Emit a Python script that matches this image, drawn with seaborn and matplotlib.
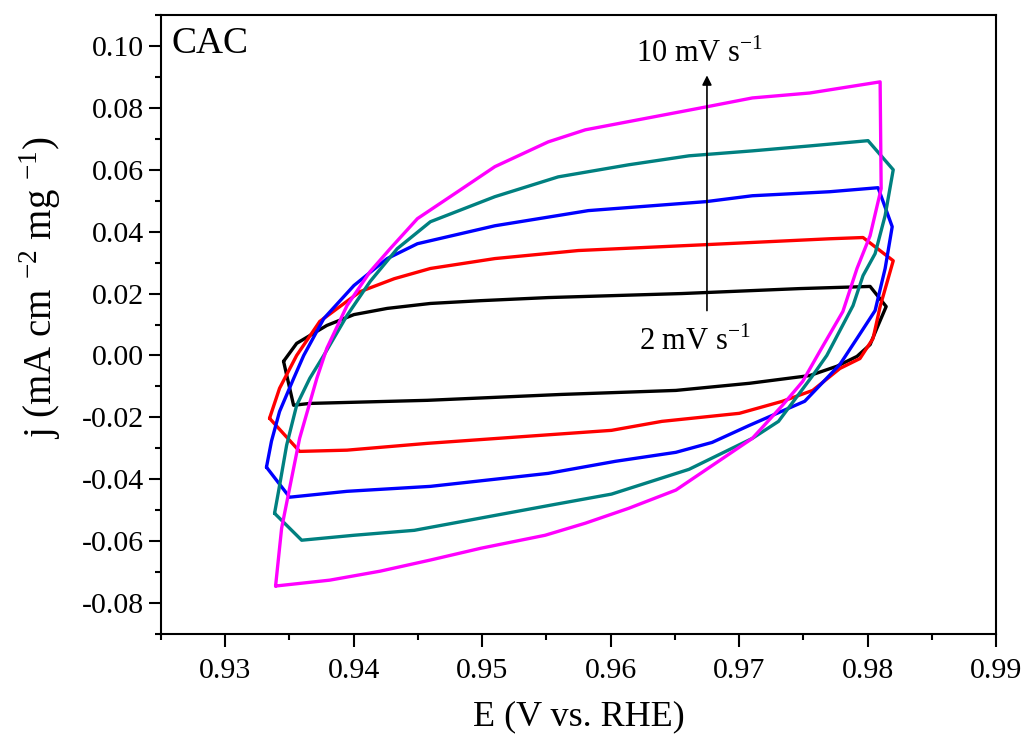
import numpy as np
import pandas as pd
import matplotlib
matplotlib.use("Agg")
import matplotlib.pyplot as plt
import seaborn as sns
from matplotlib.ticker import MultipleLocator, FormatStrFormatter

# ---- data ----
scan_labels = ["2 mV/s", "4 mV/s", "6 mV/s", "8 mV/s", "10 mV/s"]
scan_colors = ["#000000", "#FF0000", "#0000FF", "#008080", "#FF00FF"]

E_2 = [0.93454, 0.93556, 0.93791, 0.94002, 0.94261, 0.94597, 0.94989, 0.95514, 0.96555, 0.97471,
       0.98020, 0.98145, 0.98082, 0.98020, 0.97918, 0.97761, 0.97550, 0.97080, 0.96508, 0.95615,
       0.94574, 0.93658, 0.93532, 0.93454]
j_2 = [-0.0019, 0.0039, 0.0097, 0.0132, 0.0152, 0.0168, 0.0177, 0.0187, 0.0200, 0.0216,
       0.0223, 0.0158, 0.0097, 0.0035, -0.0003, -0.0035, -0.0065, -0.0090, -0.0113, -0.0126,
       -0.0145, -0.0155, -0.0161, -0.0019]

E_4 = [0.93345, 0.93423, 0.93556, 0.93736, 0.94049, 0.94316, 0.94597, 0.95099, 0.95749, 0.96743,
       0.97706, 0.97965, 0.98200, 0.98098, 0.98043, 0.97941, 0.97785, 0.97573, 0.97338, 0.97002,
       0.96399, 0.96007, 0.95357, 0.94574, 0.93948, 0.93579, 0.93345]
j_4 = [-0.0203, -0.0106, 0.0000, 0.0110, 0.0206, 0.0248, 0.0281, 0.0313, 0.0339, 0.0358,
       0.0377, 0.0381, 0.0306, 0.0158, 0.0055, -0.0010, -0.0042, -0.0113, -0.0148, -0.0187,
       -0.0213, -0.0242, -0.0261, -0.0284, -0.0306, -0.0310, -0.0203]

E_6 = [0.93321, 0.93360, 0.93423, 0.93533, 0.93611, 0.93767, 0.94002, 0.94261, 0.94496, 0.95099,
       0.95827, 0.96743, 0.97103, 0.97706, 0.98082, 0.98192, 0.98137, 0.98059, 0.97918, 0.97785,
       0.97511, 0.97080, 0.96790, 0.96508, 0.96038, 0.95514, 0.94597, 0.93948, 0.93501, 0.93321]
j_6 = [-0.0361, -0.0277, -0.0181, -0.0074, 0.0000, 0.0119, 0.0226, 0.0313, 0.0361, 0.0419,
       0.0468, 0.0497, 0.0516, 0.0529, 0.0542, 0.0416, 0.0281, 0.0145, 0.0055, -0.0029,
       -0.0148, -0.0226, -0.0281, -0.0313, -0.0342, -0.0381, -0.0423, -0.0439, -0.0458, -0.0361]

E_8 = [0.93384, 0.93415, 0.93478, 0.93556, 0.93658, 0.93767, 0.93948, 0.94128, 0.94339, 0.94597,
       0.95099, 0.95592, 0.96140, 0.96610, 0.97103, 0.97550, 0.98004, 0.98200, 0.98137, 0.98059,
       0.97965, 0.97887, 0.97683, 0.97573, 0.97307, 0.97103, 0.96610, 0.96007, 0.95569, 0.95020,
       0.94472, 0.94002, 0.93595, 0.93384]
j_8 = [-0.0510, -0.0439, -0.0290, -0.0161, -0.0074, 0.0000, 0.0129, 0.0239, 0.0345, 0.0432,
       0.0513, 0.0577, 0.0616, 0.0645, 0.0661, 0.0677, 0.0694, 0.0600, 0.0452, 0.0329,
       0.0258, 0.0161, 0.0000, -0.0065, -0.0213, -0.0268, -0.0368, -0.0448, -0.0481, -0.0523,
       -0.0565, -0.0581, -0.0597, -0.0510]

E_10 = [0.93392, 0.93439, 0.93501, 0.93579, 0.93713, 0.93791, 0.93948, 0.94128, 0.94284, 0.94496,
        0.94809, 0.95099, 0.95514, 0.95803, 0.96743, 0.97103, 0.97550, 0.98098, 0.98106, 0.98020,
        0.97918, 0.97808, 0.97628, 0.97495, 0.97338, 0.97103, 0.96508, 0.96140, 0.95803, 0.95490,
        0.94989, 0.94597, 0.94206, 0.93814, 0.93392]
j_10 = [-0.0745, -0.0558, -0.0429, -0.0268, -0.0074, 0.0023, 0.0161, 0.0271, 0.0345, 0.0442,
        0.0529, 0.0610, 0.0690, 0.0729, 0.0803, 0.0832, 0.0848, 0.0884, 0.0539, 0.0387,
        0.0281, 0.0142, 0.0013, -0.0084, -0.0161, -0.0268, -0.0435, -0.0494, -0.0542, -0.0581,
        -0.0623, -0.0661, -0.0697, -0.0726, -0.0745]

x_ticks = [0.93, 0.94, 0.95, 0.96, 0.97, 0.98, 0.99]
y_ticks = [-0.08, -0.06, -0.04, -0.02, 0.00, 0.02, 0.04, 0.06, 0.08, 0.10]

# ---- build table ----
all_E = [E_2, E_4, E_6, E_8, E_10]
all_j = [j_2, j_4, j_6, j_8, j_10]
frames = []
for lab, e, j in zip(scan_labels, all_E, all_j):
    frames.append(pd.DataFrame({"E": e, "j": j, "scan": lab}))
df = pd.concat(frames, ignore_index=True)

sns.set_style("ticks")
plt.rcParams["font.family"] = ["Liberation Serif", "DejaVu Serif"]
plt.rcParams["mathtext.fontset"] = "custom"
plt.rcParams["mathtext.rm"] = "Liberation Serif"
plt.rcParams["axes.unicode_minus"] = False
for k in ["text.color", "axes.labelcolor", "xtick.color", "ytick.color", "axes.edgecolor"]:
    plt.rcParams[k] = "black"

fig = plt.figure(figsize=(10.32, 7.42), dpi=100)
ax = fig.add_axes([161 / 1032, 1 - 634 / 742, (996 - 161) / 1032, (634 - 15) / 742])

sns.lineplot(data=df, x="E", y="j", hue="scan", hue_order=scan_labels,
             palette=dict(zip(scan_labels, scan_colors)), sort=False, estimator=None,
             units="scan", linewidth=2.4, legend=False, ax=ax)

ax.set_xlim(0.925, 0.99)
ax.set_ylim(-0.09, 0.11)
ax.set_xticks(x_ticks)
ax.set_yticks(y_ticks)
ax.xaxis.set_minor_locator(MultipleLocator(0.005))
ax.yaxis.set_minor_locator(MultipleLocator(0.01))
ax.xaxis.set_major_formatter(FormatStrFormatter("%.2f"))
ax.yaxis.set_major_formatter(FormatStrFormatter("%.2f"))
ax.tick_params(axis="both", which="major", direction="out", length=9, width=1.5,
               labelsize=21.5, colors="black")
ax.tick_params(axis="x", which="major", pad=8)
ax.tick_params(axis="y", which="major", pad=3)
ax.tick_params(axis="both", which="minor", direction="out", length=4.5, width=1.5)
ax.tick_params(top=False, right=False)
for s in ax.spines.values():
    s.set_linewidth(1.5)
    s.set_color("black")

ax.set_xlabel("E (V vs. RHE)", fontsize=26, labelpad=12)
ax.set_ylabel(r"j (mA cm $^{\mathregular{-2}}$ mg $^{\mathregular{-1}}$)", fontsize=28)
ax.yaxis.set_label_coords(-0.117, 0.56)

ax.text(0.9258, 0.1008, "CAC", fontsize=27, ha="left", va="center")
ax.annotate("", xy=(0.9675, 0.0905), xytext=(0.9675, 0.0145),
            arrowprops=dict(arrowstyle="-|>", color="black", lw=1.2,
                            mutation_scale=14, shrinkA=0, shrinkB=0))
ax.text(0.9620, 0.0975, r"10 mV s$^{\mathregular{-1}}$", fontsize=22, ha="left", va="center")
ax.text(0.9622, 0.0045, r"2 mV s$^{\mathregular{-1}}$", fontsize=22, ha="left", va="center")

fig.savefig("out.png", dpi=100, facecolor="white")
